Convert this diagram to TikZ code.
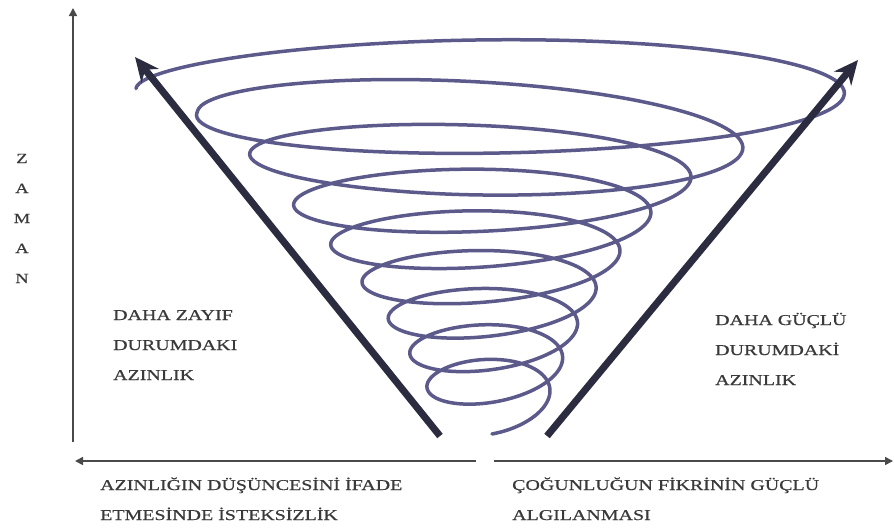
\documentclass[tikz,border=0pt]{standalone}
\usepackage{fontspec}
\setmainfont{Liberation Serif}
\newfontfamily\capfont[FakeStretch=1.33,FakeBold=0.6]{Liberation Serif}
\usetikzlibrary{arrows.meta}
\definecolor{txtgray}{HTML}{3A3A3A}
\definecolor{axisgray}{HTML}{4A4A4A}
\definecolor{arrowc}{HTML}{2C2C40}
\definecolor{spiralc}{HTML}{5C5A8A}
\begin{document}
\begin{tikzpicture}[x=1pt,y=-1pt,
  declare function={
    rr(\u)=min(356,55*exp(1.87*\u)+60*max(0,(\u-0.886)/0.057));
    hh(\u)=min(46,24+0.09*rr(\u));
    cc(\u)=5-16*exp(max(-20,-100*(\u-0.83)*(\u-0.83)))+10*exp(max(-20,-400*(\u-1)*(\u-1)));
    yc(\u)=405-280*\u-50*\u*\u;
    xc(\u)=492-70*\u*\u*(1-\u);
    th(\u)=90-3150*\u;},
  lbl/.style={font=\capfont\fontsize{15}{30}\selectfont, text=txtgray, align=left, inner sep=0pt, anchor=base west},
  vlbl/.style={font=\capfont\fontsize{14}{30}\selectfont, text=txtgray, align=center, inner sep=0pt, anchor=base},
  axisline/.style={draw=axisgray, line width=1.6pt, -{Triangle[length=8pt,width=8pt]}},
  bigarrow/.style={draw=arrowc, line width=7pt, -{Stealth[length=24pt,width=22pt]}},
  spiral/.style={draw=spiralc, line width=3.5pt, line cap=round}]
\useasboundingbox (0,0) rectangle (894,528);
\fill[white] (0,0) rectangle (894,528);
% axes
\coordinate (vo) at (73,442);
\coordinate (vt) at (73,8);
\coordinate (hl0) at (476,461);
\coordinate (hl1) at (75,461);
\coordinate (hr0) at (494,461);
\coordinate (hr1) at (893,461);
\draw[axisline] (vo) -- (vt);
\draw[axisline] (hl0) -- (hl1);
\draw[axisline] (hr0) -- (hr1);
% spiral
\draw[spiral, variable=\s, domain=0:1, samples=900, smooth]
  plot ({xc(\s)+rr(\s)*cos(th(\s))},
        {yc(\s)-cc(\s)*cos(th(\s))+hh(\s)*sin(th(\s))});
% big arrows
\coordinate (la0) at (440,436);
\coordinate (la1) at (135,57);
\coordinate (ra0) at (547,436);
\coordinate (ra1) at (858,60);
\draw[bigarrow] (la0) -- (la1);
\draw[bigarrow] (ra0) -- (ra1);
% labels
\node[vlbl] (zaman) at (22,283) {Z\\A\\M\\A\\N};
\node[lbl] (weak) at (113,380) {DAHA ZAYIF\\DURUMDAKI\\AZINLIK};
\node[lbl] (strong) at (715,385) {DAHA GÜÇLÜ\\DURUMDAKİ\\AZINLIK};
\node[lbl] (xleft) at (100,520) {AZINLIĞIN DÜŞÜNCESİNİ İFADE\\ETMESİNDE İSTEKSİZLİK};
\node[lbl] (xright) at (512,520) {ÇOĞUNLUĞUN FİKRİNİN GÜÇLÜ\\ALGILANMASI};
\end{tikzpicture}
\end{document}
